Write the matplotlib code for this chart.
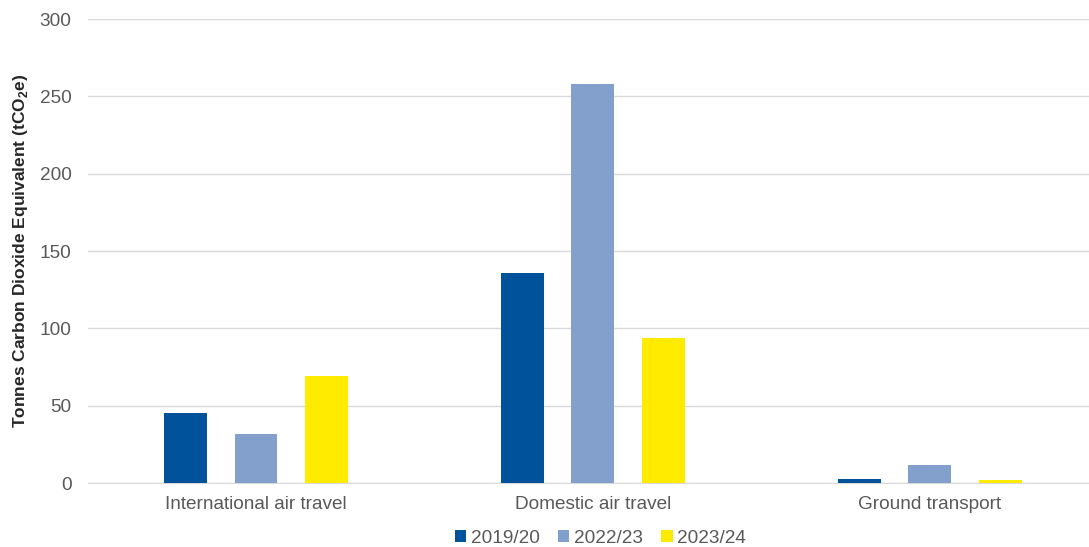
import matplotlib
matplotlib.use("Agg")
import matplotlib.pyplot as plt
import numpy as np

categories = ["International air travel", "Domestic air travel", "Ground transport"]
series_names = ["2019/20", "2022/23", "2023/24"]
v2019 = [45, 136, 2.5]
v2022 = [32, 258, 11.5]
v2023 = [69, 94, 2]
colors = ["#00539B", "#839FCB", "#FFEB00"]

plt.rcParams['font.family'] = ['Liberation Sans', 'DejaVu Sans']
fig = plt.figure(figsize=(10.89, 5.47), dpi=100)
ax = fig.add_axes([0.0804, 0.117, 0.928, 0.848])

x = np.arange(len(categories))
w = 0.127
step = 0.209
for i, (vals, name, c) in enumerate(zip([v2019, v2022, v2023], series_names, colors)):
    ax.bar(x + (i - 1) * step, vals, width=w, color=c, label=name, zorder=3)

ax.set_xlim(-0.5, 2.5)
ax.set_ylim(0, 300)
ax.set_yticks(range(0, 301, 50))
ax.set_xticks(x)
ax.set_xticklabels(categories)
ax.grid(axis='y', color='#D9D9D9', linewidth=1, zorder=0)
for s in ['top', 'right', 'left']:
    ax.spines[s].set_visible(False)
ax.spines['bottom'].set_color('#D9D9D9')
ax.tick_params(axis='both', length=0, labelsize=13.7, colors='#595959')
ax.tick_params(axis='y', pad=11.5)
ax.tick_params(axis='x', pad=9)
ax.set_ylabel("Tonnes Carbon Dioxide Equivalent (tCO$_\\mathregular{2}$e)", fontsize=12.5,
              fontweight='bold', color='#262626', labelpad=7)
ax.legend(loc='upper center', bbox_to_anchor=(0.5076, -0.072), ncol=3, frameon=False,
          fontsize=13.7, handlelength=0.6, handleheight=0.6, handletextpad=0.25,
          columnspacing=0.95, labelcolor='#595959', borderaxespad=0.3)
fig.savefig("out.png", dpi=100)
